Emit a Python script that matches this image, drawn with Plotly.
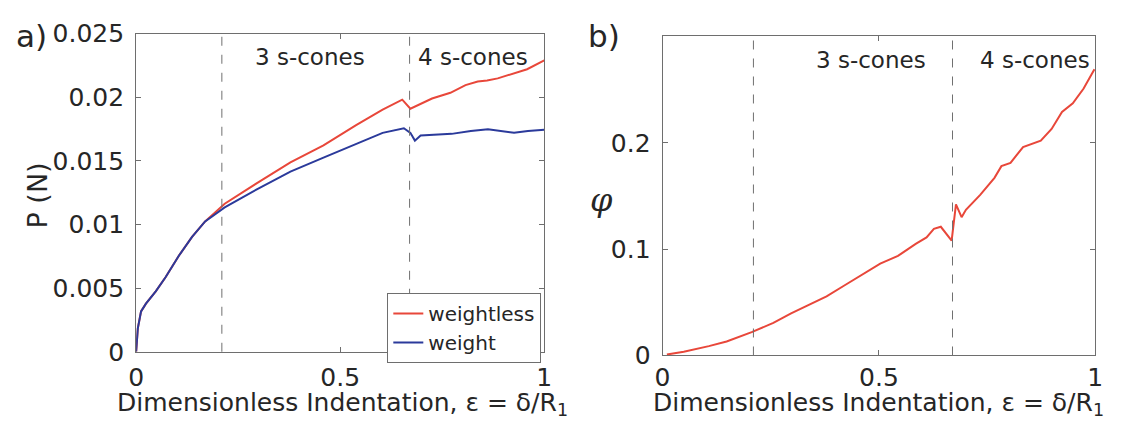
import plotly.graph_objects as go

# ---------------- data ----------------
eps_weightless = [0, 0.004, 0.012, 0.024, 0.048, 0.072, 0.105, 0.137, 0.169, 0.212, 0.217,
                  0.298, 0.378, 0.459, 0.539, 0.604, 0.652, 0.672, 0.700, 0.725, 0.77,
                  0.807, 0.837, 0.86, 0.886, 0.92, 0.958, 1.0]
P_weightless = [0, 0.00182, 0.00317, 0.00378, 0.00475, 0.00585, 0.00756, 0.00903, 0.01024, 0.0115, 0.01163,
                0.01329, 0.01488, 0.01622, 0.01781, 0.01903, 0.01981, 0.0191, 0.01952, 0.0199, 0.02035,
                0.02095, 0.02124, 0.02132, 0.02148, 0.0218, 0.0222, 0.0229]

eps_weight = [0, 0.004, 0.012, 0.024, 0.048, 0.072, 0.105, 0.137, 0.169, 0.212, 0.217,
              0.298, 0.378, 0.459, 0.539, 0.604, 0.656, 0.672, 0.683, 0.697, 0.773,
              0.82, 0.862, 0.926, 0.96, 1.0]
P_weight = [0, 0.00182, 0.00317, 0.00378, 0.00475, 0.00585, 0.00756, 0.00903, 0.01024, 0.0112, 0.01134,
            0.0128, 0.01415, 0.01525, 0.01635, 0.0172, 0.01756, 0.0172, 0.01659, 0.017, 0.01712,
            0.01735, 0.01749, 0.0172, 0.01735, 0.01745]

eps_phi = [0.01, 0.049, 0.107, 0.148, 0.206, 0.256, 0.297, 0.338, 0.379, 0.420, 0.462,
           0.503, 0.544, 0.585, 0.610, 0.627, 0.643, 0.668, 0.678, 0.691, 0.701, 0.734,
           0.767, 0.783, 0.804, 0.833, 0.874, 0.899, 0.923, 0.948, 0.973, 0.998]
phi = [0.001, 0.0035, 0.0088, 0.0132, 0.0219, 0.0307, 0.0395, 0.0474, 0.0556, 0.0658, 0.076,
       0.0863, 0.0936, 0.105, 0.111, 0.119, 0.121, 0.108, 0.142, 0.130, 0.137, 0.151,
       0.167, 0.178, 0.181, 0.196, 0.202, 0.213, 0.229, 0.237, 0.251, 0.269]

regime_bounds = [0.21, 0.67]
regime_labels = ["3 s-cones", "4 s-cones"]

left_yticks = [0, 0.005, 0.01, 0.015, 0.02, 0.025]
left_yticktext = ["0", "0.005", "0.01", "0.015", "0.02", "0.025"]
right_yticks = [0, 0.1, 0.2]
right_yticktext = ["0", "0.1", "0.2"]
xticks = [0, 0.5, 1]
xticktext = ["0", "0.5", "1"]

# ---------------- styling ----------------
W, H = 1125, 433
FONT = "DejaVu Sans, Liberation Sans, Arial, sans-serif"
TXT = "#262626"
RED = "#e8473a"
BLUE = "#2b3a9b"
FRAME = "#6e6e6e"

def px(x):
    return x / W

def py(y):
    return 1 - y / H

fig = go.Figure()

fig.add_trace(go.Scatter(x=eps_weightless, y=P_weightless, mode="lines", name="weightless",
                         line=dict(color=RED, width=2), xaxis="x", yaxis="y"))
fig.add_trace(go.Scatter(x=eps_weight, y=P_weight, mode="lines", name="weight",
                         line=dict(color=BLUE, width=2), xaxis="x", yaxis="y"))
fig.add_trace(go.Scatter(x=eps_phi, y=phi, mode="lines", name="phi", showlegend=False,
                         line=dict(color=RED, width=2), xaxis="x2", yaxis="y2"))

axis_common = dict(showgrid=False, zeroline=False, showline=True, linecolor=FRAME, linewidth=1,
                   mirror="ticks", ticks="inside", ticklen=5, tickcolor=FRAME,
                   tickfont=dict(family=FONT, size=25, color=TXT))

fig.update_layout(
    width=W, height=H,
    margin=dict(l=0, r=0, t=0, b=0),
    paper_bgcolor="white", plot_bgcolor="white",
    showlegend=True,
    legend=dict(x=px(541), y=py(374), xanchor="right", yanchor="bottom",
                bgcolor="white", bordercolor=FRAME, borderwidth=1,
                font=dict(family=FONT, size=20, color=TXT),
                tracegroupgap=0, itemwidth=30),
    xaxis=dict(domain=[px(130), px(544)], range=[0, 1], anchor="y",
               tickvals=xticks, ticktext=xticktext, ticklabelstandoff=3, **axis_common),
    yaxis=dict(domain=[py(362), py(21)], range=[0, 0.025], anchor="x",
               tickvals=left_yticks, ticktext=left_yticktext, ticklabelstandoff=6, **axis_common),
    xaxis2=dict(domain=[px(664), px(1103)], range=[0, 1], anchor="y2",
                tickvals=xticks, ticktext=xticktext, ticklabelstandoff=0, **axis_common),
    yaxis2=dict(domain=[py(366), py(24)], range=[0, 0.3], anchor="x2",
                tickvals=right_yticks, ticktext=right_yticktext, ticklabelstandoff=6, **axis_common),
)

# dashed regime boundaries
for xa, ya in [("x", "y"), ("x2", "y2")]:
    for b in regime_bounds:
        fig.add_shape(type="line", xref=xa, yref=f"{ya} domain", x0=b, x1=b, y0=0, y1=1,
                      line=dict(color="#707070", width=1, dash="dash"))

# regime labels
for xa, ya, cx in [("x", "y", [0.425, 0.825]), ("x2", "y2", [0.481, 0.86])]:
    for lab, c in zip(regime_labels, cx):
        fig.add_annotation(text=lab, x=c, y=0.925, xref=f"{xa}", yref=f"{ya} domain",
                           showarrow=False, xanchor="center", yanchor="middle",
                           font=dict(family=FONT, size=23, color=TXT))

# axis titles
xtitle = "Dimensionless Indentation, \u03b5 = \u03b4/R<sub>1</sub>"
for cx in [339, 883]:
    fig.add_annotation(text=xtitle, x=px(cx), y=py(400), xref="paper", yref="paper",
                       showarrow=False, xanchor="center", yanchor="top", borderpad=0,
                       font=dict(family=FONT, size=25, color=TXT))

fig.add_annotation(text="P (N)", x=px(30), y=py(195), xref="paper", yref="paper",
                   showarrow=False, textangle=-90, xanchor="center", yanchor="middle",
                   font=dict(family=FONT, size=27, color=TXT))
fig.add_annotation(text="<i>\u03c6</i>", x=px(602), y=py(199), xref="paper", yref="paper",
                   showarrow=False, xanchor="center", yanchor="middle",
                   font=dict(family="DejaVu Serif, serif", size=32, color=TXT))

# panel letters
fig.add_annotation(text="a)", x=px(24), y=py(24), xref="paper", yref="paper",
                   showarrow=False, xanchor="center", yanchor="middle",
                   font=dict(family=FONT, size=31, color=TXT))
fig.add_annotation(text="b)", x=px(605), y=py(24), xref="paper", yref="paper",
                   showarrow=False, xanchor="center", yanchor="middle",
                   font=dict(family=FONT, size=31, color=TXT))

fig.write_html("out.html")
